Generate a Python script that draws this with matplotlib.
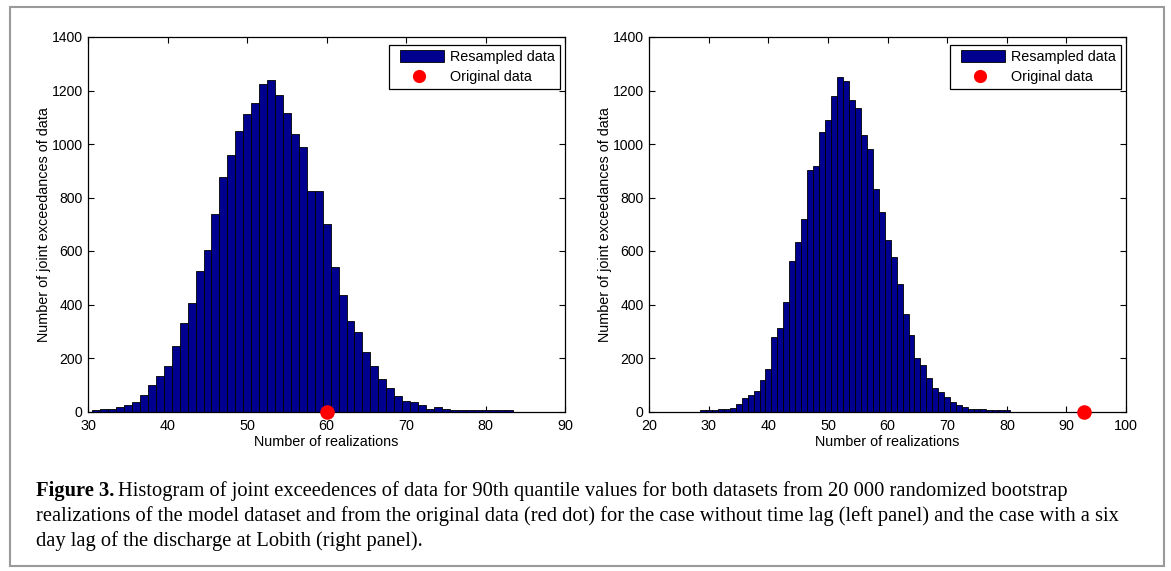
import numpy as np
import matplotlib
matplotlib.use("Agg")
import matplotlib.pyplot as plt
from matplotlib.patches import Rectangle, Patch
from matplotlib.lines import Line2D
from matplotlib.legend_handler import HandlerPatch

# ---------------- data ----------------
left_centers = list(range(31, 84))
left_counts = [6, 10, 10, 16, 25, 37, 62, 100, 133, 171,
               243, 332, 405, 525, 602, 737, 877, 959, 1050, 1111,
               1155, 1226, 1241, 1182, 1115, 1037, 987, 823, 823, 701,
               541, 436, 339, 296, 222, 171, 122, 88, 57, 41,
               36, 24, 10, 16, 10, 6, 5, 5, 5, 5,
               5, 5, 5]
left_original = 60

right_centers = list(range(29, 81))
right_counts = [5, 5, 5, 8, 9, 13, 28, 49, 62, 77,
                118, 159, 278, 312, 409, 561, 635, 721, 901, 916,
                1045, 1091, 1178, 1250, 1234, 1163, 1136, 1032, 980, 833,
                746, 640, 578, 476, 364, 286, 201, 174, 124, 87,
                72, 53, 34, 24, 18, 8, 8, 8, 4, 4,
                4, 4]
right_original = 93

left_xticks = [30, 40, 50, 60, 70, 80, 90]
right_xticks = [20, 30, 40, 50, 60, 70, 80, 90, 100]
yticks = [0, 200, 400, 600, 800, 1000, 1200, 1400]

xlabel = "Number of realizations"
ylabel = "Number of joint exceedances of data"
legend_labels = ["Resampled data", "Original data"]

caption_bold = "Figure 3."
caption_lines = [
    "Histogram of joint exceedences of data for 90th quantile values for both datasets from 20 000 randomized bootstrap",
    "realizations of the model dataset and from the original data (red dot) for the case without time lag (left panel) and the case with a six",
    "day lag of the discharge at Lobith (right panel).",
]

# ---------------- style ----------------
W, H = 1171, 571
FS = 10.4
plt.rcParams['font.family'] = ['Liberation Sans', 'DejaVu Sans']
plt.rcParams['font.size'] = FS
navy = (0, 0, 0.5625)

fig = plt.figure(figsize=(W / 100, H / 100), dpi=100)

def px_axes(x0, y0, x1, y1):
    return fig.add_axes([x0 / W, 1 - y1 / H, (x1 - x0) / W, (y1 - y0) / H])

def inset_rect(legend, orig_handle, xdescent, ydescent, width, height, fontsize):
    off = 0.12 * width
    return Rectangle((-xdescent + off, -ydescent), width - off, height)

def draw_panel(ax, centers, counts, orig, xticks):
    ax.bar(centers, counts, width=1.0, color=navy, edgecolor='black',
           linewidth=0.6, align='center', zorder=2)
    ax.plot([orig], [0], 'o', color='red', markersize=10.5, clip_on=False,
            zorder=5, markeredgewidth=0)
    ax.set_xlim(xticks[0], xticks[-1])
    ax.set_ylim(0, 1400)
    ax.set_xticks(xticks)
    ax.set_yticks(yticks)
    ax.tick_params(axis='both', direction='in', top=True, right=True, length=4,
                   width=0.8, labelsize=FS)
    ax.tick_params(axis='x', pad=5.5)
    ax.tick_params(axis='y', pad=4, labelsize=10.1)
    for s in ax.spines.values():
        s.set_linewidth(0.9)
    ax.set_xlabel(xlabel, fontsize=FS, labelpad=1)
    ax.set_ylabel(ylabel, fontsize=FS, labelpad=0.8)
    handles = [Patch(facecolor=navy, edgecolor='black', linewidth=0.6),
               Line2D([], [], marker='o', color='red', linestyle='None',
                      markersize=9.5, markeredgewidth=0)]
    leg = ax.legend(handles, legend_labels, loc='upper right',
                    bbox_to_anchor=(0.99, 0.979), borderaxespad=0,
                    fancybox=False, framealpha=1, edgecolor='black',
                    fontsize=FS, handlelength=3.45, handleheight=0.95,
                    handletextpad=0.45, labelspacing=0.42, borderpad=0.35,
                    handler_map={Patch: HandlerPatch(patch_func=inset_rect)})
    leg.get_frame().set_linewidth(0.9)

ax1 = px_axes(88.3, 37, 565, 411.5)
draw_panel(ax1, left_centers, left_counts, left_original, left_xticks)
ax2 = px_axes(649.3, 37, 1126, 411.5)
draw_panel(ax2, right_centers, right_counts, right_original, right_xticks)

# outer frame
fig.add_artist(Rectangle((10 / W, 1 - 566 / H), (1164 - 10) / W, (566 - 7) / H,
                         transform=fig.transFigure, fill=False,
                         edgecolor='#9a9a9a', linewidth=1.5))

# caption
cap_font = ['Liberation Serif', 'DejaVu Serif']
cap_size = 14.8
x0 = 36 / W
baselines = [496, 521, 546]
tb = fig.text(x0, 1 - baselines[0] / H, caption_bold, family=cap_font,
              fontsize=cap_size, fontweight='bold', va='baseline', ha='left')
fig.canvas.draw()
ext = tb.get_window_extent(fig.canvas.get_renderer())
fig.text((ext.x1 + 4) / W, 1 - baselines[0] / H, caption_lines[0],
         family=cap_font, fontsize=cap_size, va='baseline', ha='left')
for line, b in zip(caption_lines[1:], baselines[1:]):
    fig.text(x0, 1 - b / H, line, family=cap_font, fontsize=cap_size,
             va='baseline', ha='left')

fig.savefig('out.png', dpi=100)
